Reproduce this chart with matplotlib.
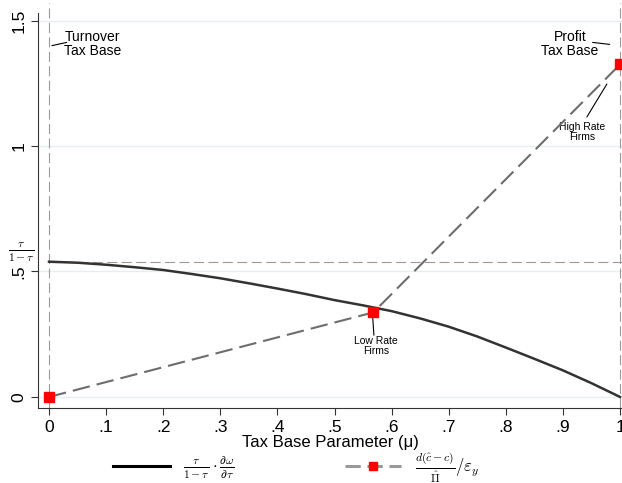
import matplotlib
matplotlib.use("Agg")
import matplotlib.pyplot as plt
from matplotlib.transforms import blended_transform_factory

plt.rcParams['font.family'] = ['Liberation Sans', 'DejaVu Sans']
plt.rcParams['mathtext.fontset'] = 'cm'

# data
mu = [0.0, 0.05, 0.1, 0.15, 0.2, 0.25, 0.3, 0.35, 0.4, 0.45, 0.5,
      0.55, 0.6, 0.65, 0.7, 0.75, 0.8, 0.85, 0.9, 0.95, 1.0]
elast_term = [0.539, 0.535, 0.527, 0.517, 0.506, 0.490, 0.473, 0.453, 0.432, 0.410, 0.386,
              0.365, 0.342, 0.313, 0.280, 0.241, 0.197, 0.152, 0.106, 0.055, 0.0]
firm_mu = [0.0, 0.568, 1.0]
firm_val = [0.0, 0.337, 1.325]
tau_ratio = 0.538

xticks = [0, .1, .2, .3, .4, .5, .6, .7, .8, .9, 1]
xticklabels = ['0', '.1', '.2', '.3', '.4', '.5', '.6', '.7', '.8', '.9', '1']
yticks = [0, .5, 1, 1.5]
yticklabels = ['0', '.5', '1', '1.5']

fig = plt.figure(figsize=(6.22, 4.83), dpi=100)
ax = fig.add_axes([38/622, 75/483, 584/622, 405/483])

x_lo, x_hi = -0.0193, 1.0035
y_lo, y_hi = -0.044, 1.570
ax.set_xlim(x_lo, x_hi)
ax.set_ylim(y_lo, y_hi)

# grid
for yv in yticks:
    ax.axhline(yv, color='#e6eef0', lw=1.0, zorder=0)

# reference lines
ref = dict(color='#9a9a9a', lw=0.8, linestyle=(0, (9, 4)), zorder=1)
ax.axvline(0, **ref)
ax.axvline(1, **ref)
ax.hlines(tau_ratio, 0, x_hi, **ref)

l1, = ax.plot(mu, elast_term, color='#333333', lw=1.8, zorder=3,
              label=r'$\frac{\tau}{1-\tau}\cdot\frac{\partial\omega}{\partial\tau}$')
l2, = ax.plot(firm_mu, firm_val, color='#6d6d6d', lw=1.5, linestyle=(0, (8.4, 3.4)),
              marker='s', markersize=7, markerfacecolor='red', markeredgecolor='red', zorder=4,
              label=r'$\frac{d(\hat{c}-c)}{\hat{\Pi}}/\varepsilon_y$')

# annotations
ax.annotate('', xy=(0.005, 1.400), xytext=(0.031, 1.413),
            arrowprops=dict(arrowstyle='-', color='black', lw=0.8, shrinkA=0, shrinkB=0))
ax.text(0.027, 1.408, 'Turnover\nTax Base', ha='left', va='center', fontsize=10,
        linespacing=1.0)
ax.annotate('', xy=(0.982, 1.405), xytext=(0.952, 1.413),
            arrowprops=dict(arrowstyle='-', color='black', lw=0.8, shrinkA=0, shrinkB=0))
ax.text(0.912, 1.408, 'Profit\nTax Base', ha='center', va='center', fontsize=10,
        linespacing=1.0, multialignment='center')
ax.annotate('', xy=(0.977, 1.247), xytext=(0.942, 1.116),
            arrowprops=dict(arrowstyle='-', color='black', lw=0.8, shrinkA=0, shrinkB=0))
ax.text(0.933, 1.057, 'High Rate\nFirms', ha='center', va='center', fontsize=7.5,
        linespacing=1.0, multialignment='center')
ax.annotate('', xy=(0.567, 0.314), xytext=(0.569, 0.246),
            arrowprops=dict(arrowstyle='-', color='black', lw=0.8, shrinkA=0, shrinkB=0))
ax.text(0.573, 0.205, 'Low Rate\nFirms', ha='center', va='center', fontsize=7.5,
        linespacing=1.0, multialignment='center')

# axes styling
for s in ['top', 'right']:
    ax.spines[s].set_visible(False)
ax.spines['left'].set_bounds(y_lo, 1.53)
ax.spines['left'].set_color('#333333')
ax.spines['bottom'].set_color('#333333')
ax.set_xticks(xticks)
ax.set_xticklabels(xticklabels, fontsize=12.5)
ax.set_yticks(yticks)
ax.set_yticklabels(yticklabels, fontsize=12.5, rotation=90, va='center')
ax.tick_params(length=5, width=0.8, color='#333333')
ax.set_xlabel('Tax Base Parameter (\u03bc)', fontsize=12, labelpad=0)

trans = blended_transform_factory(ax.transAxes, ax.transData)
ax.annotate(r'$\frac{\tau}{1-\tau}$', xy=(0, tau_ratio), xycoords=trans,
            xytext=(-12, 7), textcoords='offset points', ha='center', va='center',
            fontsize=12)

leg = fig.legend(handles=[l1, l2], loc='center', bbox_to_anchor=(0.476, 0.032), ncol=2,
                 frameon=False, fontsize=12, handlelength=3.4, columnspacing=6.6,
                 numpoints=1, handletextpad=0.8, borderpad=0)
h1, h2 = leg.legend_handles
h1.set_color('black')
h1.set_linewidth(2.2)
h2.set_color('#999999')
h2.set_linewidth(2.2)
h2.set_linestyle((0, (5, 2.2)))
h2.set_markersize(6)

fig.savefig('out.png', dpi=100)
